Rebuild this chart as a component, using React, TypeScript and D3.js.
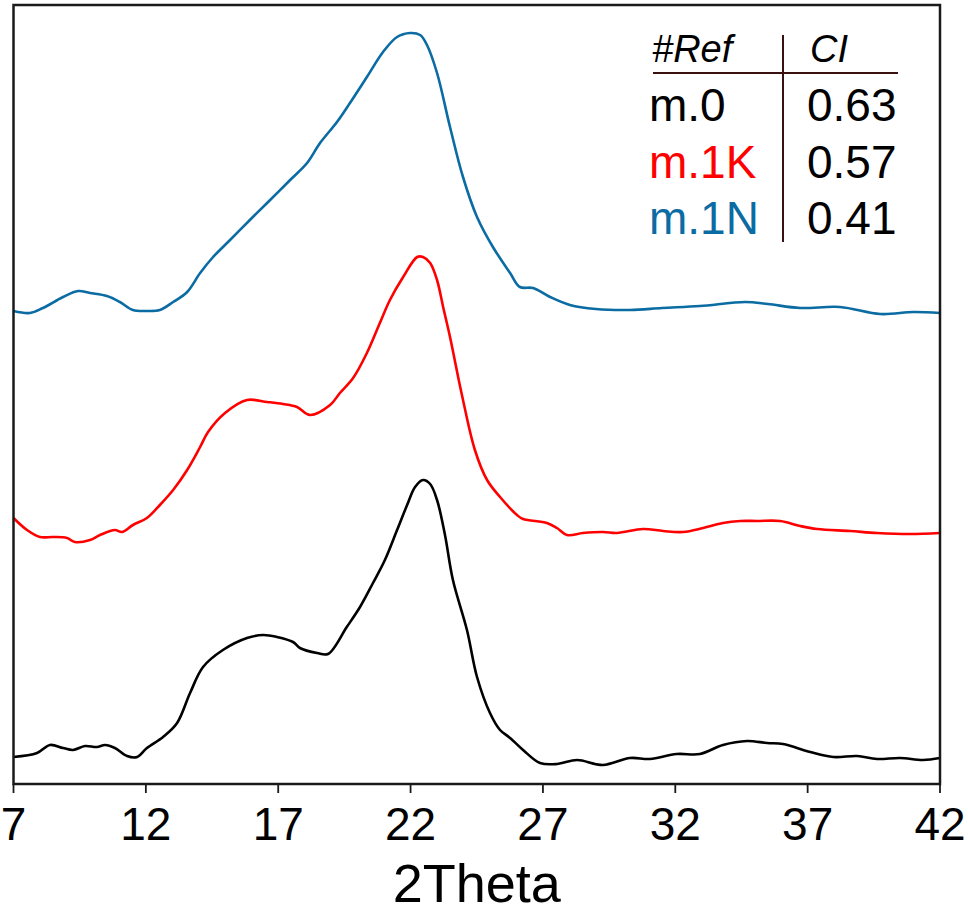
import React from "react";
import * as d3 from "d3";

// 2Theta tick labels
const xTicks = [7, 12, 17, 22, 27, 32, 37, 42];

// Intensity (a.u., offset-stacked as in the figure)
const blackTheta = [7.0, 7.89, 8.38, 8.87, 9.25, 9.70, 10.15, 10.46, 10.83, 11.29, 11.67, 12.04, 12.65, 13.18, 13.67, 14.16, 14.91, 15.82, 16.43, 16.95, 17.56, 17.82, 18.47, 18.88, 19.59, 20.09, 20.58, 21.03, 21.49, 21.87, 22.17, 22.47, 22.74, 23.00, 23.30, 23.60, 24.13, 24.51, 25.00, 25.38, 25.76, 26.25, 26.89, 27.53, 28.29, 29.27, 30.29, 31.04, 32.05, 32.93, 33.80, 34.71, 35.47, 36.07, 37.10, 37.97, 38.87, 39.62, 40.49, 41.36, 42.0];
const blackI = [27, 31, 39, 36, 34, 38, 37, 39, 36, 28, 27, 36, 47, 61, 91, 117, 134, 146, 149, 147, 142, 136, 131, 130, 157, 177, 201, 224, 254, 279, 297, 304, 300, 284, 249, 204, 154, 107, 71, 54, 46, 34, 21, 20, 24, 19, 26, 25, 30, 30, 39, 43, 41, 40, 32, 27, 28, 25, 26, 24, 26];

const redTheta = [7.0, 7.51, 8.0, 8.49, 9.02, 9.32, 9.89, 10.27, 10.83, 11.10, 11.51, 12.04, 12.53, 13.03, 13.56, 14.05, 14.35, 14.99, 15.82, 16.58, 17.18, 17.71, 18.20, 18.96, 19.33, 19.83, 20.35, 20.84, 21.22, 21.72, 22.25, 22.47, 22.74, 23.00, 23.23, 23.49, 23.94, 24.43, 24.89, 25.38, 26.02, 26.25, 27.15, 27.53, 27.91, 28.51, 29.27, 29.80, 30.78, 31.54, 32.29, 33.05, 33.80, 34.45, 35.09, 35.96, 36.72, 37.36, 38.60, 39.62, 40.87, 42.0];
const redI = [266, 254, 247, 247, 246, 242, 244, 249, 254, 252, 259, 266, 279, 294, 314, 337, 352, 371, 384, 382, 380, 377, 369, 379, 391, 406, 431, 461, 484, 507, 527, 527, 521, 504, 477, 447, 389, 334, 304, 287, 269, 265, 261, 256, 249, 251, 252, 251, 255, 253, 252, 256, 261, 263, 263, 263, 258, 255, 253, 251, 250, 251];

const blueTheta = [7.0, 7.62, 8.11, 8.87, 9.44, 9.89, 10.53, 11.02, 11.51, 12.04, 12.53, 13.03, 13.56, 14.05, 14.54, 15.18, 15.93, 16.58, 17.45, 18.09, 18.58, 19.22, 19.71, 20.35, 20.96, 21.49, 21.98, 22.36, 22.62, 23.00, 23.49, 23.98, 24.51, 25.11, 25.76, 26.13, 26.63, 27.27, 28.02, 29.00, 30.29, 31.50, 32.93, 34.64, 35.50, 36.72, 38.22, 39.74, 41.00, 42.0];
const blueI = [473, 471, 476, 487, 493, 491, 488, 482, 474, 473, 474, 482, 492, 511, 527, 544, 564, 581, 604, 621, 641, 662, 681, 707, 732, 747, 751, 749, 739, 711, 657, 607, 567, 537, 511, 497, 496, 487, 479, 475, 474, 476, 478, 482, 480, 476, 477, 470, 472, 471];

// legend table
const tableRefs = ["m.0", "m.1K", "m.1N"];
const tableCI = ["0.63", "0.57", "0.41"];
const seriesColors = ["#000000", "#ff0000", "#0b6ba3"];

const W = 968;
const H = 918;
const left = 13.5;
const right = 940;
const top = 5;
const bottom = 784;

export default function App() {
  const x = d3.scaleLinear().domain([7, 42]).range([left, right]);
  const y = d3.scaleLinear().domain([0, 779]).range([bottom, top]);
  const line = d3
    .line<[number, number]>()
    .x((d) => x(d[0]))
    .y((d) => y(d[1]))
    .curve(d3.curveCatmullRom.alpha(0.5));

  const series = [
    { t: blackTheta, v: blackI, c: seriesColors[0] },
    { t: redTheta, v: redI, c: seriesColors[1] },
    { t: blueTheta, v: blueI, c: seriesColors[2] },
  ];

  const font = "'Liberation Sans', Arial, sans-serif";

  return (
    <svg
      width={W}
      height={H}
      style={{ position: "absolute", left: 0, top: 0, background: "#fff" }}
      fontFamily={font}
    >
      <rect x={0} y={0} width={W} height={H} fill="#fff" />
      {series.map((s, i) => (
        <path
          key={i}
          d={line(s.t.map((t, j) => [t, s.v[j]] as [number, number])) || ""}
          fill="none"
          stroke={s.c}
          strokeWidth={2.6}
          strokeLinejoin="round"
        />
      ))}
      {/* frame */}
      <rect
        x={left}
        y={top}
        width={right - left}
        height={bottom - top}
        fill="none"
        stroke="#1a1a1a"
        strokeWidth={2.5}
      />
      {/* x ticks */}
      {xTicks.map((t) => (
        <g key={t}>
          <line x1={x(t)} x2={x(t)} y1={bottom} y2={bottom + 9} stroke="#1a1a1a" strokeWidth={1.8} />
          <text x={x(t)} y={840} textAnchor="middle" fontSize={46} fill="#000">
            {t}
          </text>
        </g>
      ))}
      <text x={(left + right) / 2} y={902} textAnchor="middle" fontSize={54} fill="#000">
        2Theta
      </text>
      {/* legend table */}
      <text x={652} y={62} fontSize={38} fontStyle="italic" fill="#000">
        #Ref
      </text>
      <text x={810} y={62} fontSize={38} fontStyle="italic" fill="#000">
        CI
      </text>
      <line x1={653} x2={898} y1={73} y2={73} stroke="#3a1010" strokeWidth={2.2} />
      <line x1={783} x2={783} y1={35} y2={242} stroke="#3a1010" strokeWidth={2} />
      {tableRefs.map((r, i) => (
        <g key={r}>
          <text x={649} y={121 + i * 56.5} fontSize={46} fill={seriesColors[i]}>
            {r}
          </text>
          <text x={807} y={121 + i * 56.5} fontSize={46} fill="#000">
            {tableCI[i]}
          </text>
        </g>
      ))}
    </svg>
  );
}
